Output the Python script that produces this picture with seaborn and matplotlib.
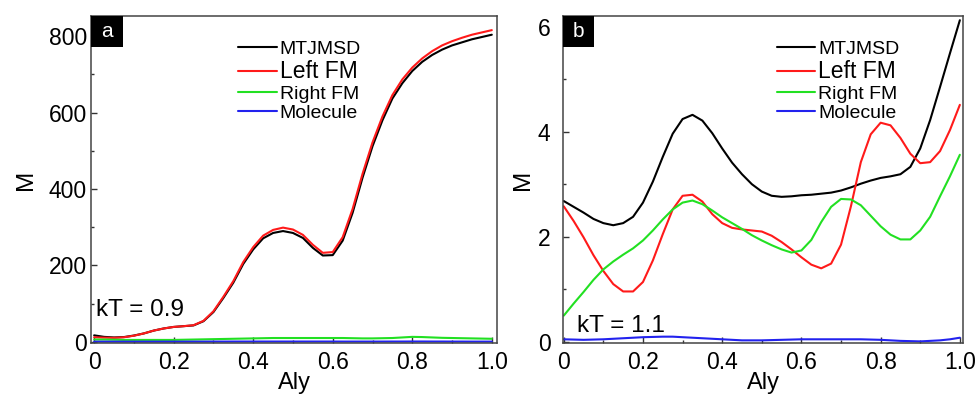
import numpy as np
import pandas as pd
import matplotlib
matplotlib.use('Agg')
import matplotlib.pyplot as plt
import seaborn as sns
from matplotlib.patches import Rectangle
from matplotlib.ticker import MultipleLocator

sns.set_style('ticks')
plt.rcParams['font.family'] = ['Liberation Sans', 'DejaVu Sans']
plt.rcParams['text.color'] = 'black'
plt.rcParams['axes.labelcolor'] = 'black'
plt.rcParams['xtick.labelcolor'] = 'black'
plt.rcParams['ytick.labelcolor'] = 'black'

# Aly grid shared by both panels
aly = [0.0, 0.025, 0.05, 0.075, 0.1, 0.125, 0.15, 0.175, 0.2, 0.225,
       0.25, 0.275, 0.3, 0.325, 0.35, 0.375, 0.4, 0.425, 0.45, 0.475,
       0.5, 0.525, 0.55, 0.575, 0.6, 0.625, 0.65, 0.675, 0.7, 0.725,
       0.75, 0.775, 0.8, 0.825, 0.85, 0.875, 0.9, 0.925, 0.95, 0.975, 1.0]

# panel a, kT = 0.9
a_mtjmsd = [17, 13, 11.5, 12.5, 16.5, 22, 29.5, 35, 39, 41,
            43, 54, 78, 115, 155, 204, 242, 271, 285, 290,
            285, 272, 246, 226, 227, 265, 338, 430, 512, 580,
            637, 677, 709, 733, 751, 765, 776, 784, 792, 798, 804]
a_left = [12, 11, 10.5, 12, 16, 22, 29.5, 35, 39, 41,
          43.5, 55, 80, 118, 159, 209, 248, 278, 293, 299,
          294, 280, 254, 233, 235, 274, 348, 440, 522, 590,
          646, 687, 718, 742, 761, 776, 787, 796, 804, 810, 816]
a_right = [6, 6, 5.5, 5, 5, 5, 5, 5, 5, 5.5,
           6, 6.5, 7, 7.5, 8, 8.5, 9, 9.5, 10, 10,
           10, 10, 10, 10, 10, 10, 9.5, 9, 9, 9.5,
           10, 11.5, 13, 12.5, 11.5, 10.5, 10, 9.5, 9, 8.5, 8]
a_molecule = [0.5, 0.5, 0.5, 0.5, 0.5, 0.5, 0.5, 0.5, 0.5, 0.5,
              0.6, 0.6, 0.7, 0.7, 0.8, 0.8, 0.8, 0.8, 0.8, 0.8,
              0.8, 0.8, 0.8, 0.8, 0.8, 0.7, 0.7, 0.7, 0.7, 0.7,
              0.8, 0.8, 0.9, 0.9, 0.8, 0.8, 0.7, 0.7, 0.6, 0.6, 0.6]

# panel b, kT = 1.1
b_mtjmsd = [2.68, 2.57, 2.46, 2.34, 2.26, 2.22, 2.26, 2.38, 2.65, 3.05,
            3.52, 3.96, 4.24, 4.32, 4.21, 3.97, 3.68, 3.41, 3.19, 3.00,
            2.86, 2.78, 2.76, 2.77, 2.79, 2.80, 2.82, 2.84, 2.88, 2.94,
            3.01, 3.07, 3.12, 3.15, 3.19, 3.33, 3.68, 4.22, 4.85, 5.49, 6.12]
b_left = [2.58, 2.30, 1.99, 1.65, 1.35, 1.10, 0.96, 0.96, 1.14, 1.55,
          2.05, 2.52, 2.78, 2.80, 2.67, 2.43, 2.26, 2.17, 2.14, 2.12,
          2.10, 2.02, 1.90, 1.76, 1.61, 1.47, 1.40, 1.49, 1.85, 2.58,
          3.42, 3.95, 4.17, 4.12, 3.88, 3.58, 3.40, 3.42, 3.63, 4.03, 4.51]
b_right = [0.50, 0.73, 0.95, 1.18, 1.38, 1.53, 1.66, 1.78, 1.93, 2.12,
           2.33, 2.52, 2.65, 2.69, 2.62, 2.50, 2.37, 2.26, 2.15, 2.03,
           1.93, 1.84, 1.76, 1.70, 1.74, 1.94, 2.28, 2.57, 2.72, 2.71,
           2.60, 2.40, 2.20, 2.04, 1.95, 1.95, 2.12, 2.38, 2.77, 3.15, 3.56]
b_molecule = [0.05, 0.045, 0.04, 0.045, 0.05, 0.06, 0.07, 0.08, 0.09, 0.095,
              0.10, 0.10, 0.09, 0.08, 0.07, 0.06, 0.05, 0.04, 0.03, 0.03,
              0.03, 0.035, 0.04, 0.045, 0.05, 0.05, 0.05, 0.05, 0.05, 0.05,
              0.05, 0.045, 0.04, 0.03, 0.02, 0.015, 0.01, 0.02, 0.03, 0.05, 0.08]

series = ['MTJMSD', 'Left FM', 'Right FM', 'Molecule']
colors = ['#000000', '#ff1a1a', '#22e022', '#2222ee']


def long_table(values):
    frames = []
    for name, vals in zip(series, values):
        frames.append(pd.DataFrame({'Aly': aly, 'M': vals, 'series': name}))
    return pd.concat(frames, ignore_index=True)


df_a = long_table([a_mtjmsd, a_left, a_right, a_molecule])
df_b = long_table([b_mtjmsd, b_left, b_right, b_molecule])

fig = plt.figure(figsize=(9.76, 3.99), dpi=100)
ax_a = fig.add_axes([0.0932, 0.1404, 0.4160, 0.8195])
ax_b = fig.add_axes([0.5768, 0.1404, 0.4099, 0.8195])


def draw_panel(ax, df, ylim, ymaj, ymin, letter, kt_text, kt_pos, leg_x, ypad, mpad):
    sns.lineplot(data=df, x='Aly', y='M', hue='series', hue_order=series,
                 palette=colors, linewidth=1.5, ax=ax, legend=False, sort=False)
    ax.set_ylim(*ylim)
    ax.xaxis.set_minor_locator(MultipleLocator(0.1))
    ax.yaxis.set_major_locator(MultipleLocator(ymaj))
    ax.yaxis.set_minor_locator(MultipleLocator(ymin))
    ax.set_xticks([0, 0.2, 0.4, 0.6, 0.8, 1.0])
    ax.set_xticklabels(['0', '0.2', '0.4', '0.6', '0.8', '1.0'])
    ax.tick_params(which='both', direction='in', color='#333333',
                   top=False, right=False)
    ax.tick_params(which='major', length=4, width=1, labelsize=16.5)
    ax.tick_params(which='minor', length=2.5, width=1)
    ax.tick_params(axis='x', which='major', pad=6)
    ax.tick_params(axis='y', which='major', pad=ypad)
    for sp in ax.spines.values():
        sp.set_color('#444444')
        sp.set_linewidth(1.1)
        sp.set_visible(True)
    ax.set_xlabel('Aly', fontsize=17, labelpad=-2)
    ax.set_ylabel('M', fontsize=17.5, labelpad=mpad)

    # panel letter in black box
    ax.add_patch(Rectangle((0, 1 - 0.095), 0.078, 0.095, transform=ax.transAxes,
                           facecolor='black', edgecolor='none', zorder=5,
                           clip_on=False))
    ax.text(0.039, 1 - 0.0475, letter, transform=ax.transAxes, color='white',
            fontsize=15, ha='center', va='center', zorder=6)
    ax.text(kt_pos[0], kt_pos[1], kt_text, transform=ax.transAxes,
            fontsize=17.5, ha='left', va='baseline')

    handles = [plt.Line2D([], [], color=c, linewidth=1.5) for c in colors]
    leg = ax.legend(handles, series, loc='upper left',
                    bbox_to_anchor=(leg_x, 0.925), frameon=False, fontsize=14,
                    handlelength=2.0, handletextpad=0.15, labelspacing=0.1,
                    borderpad=0, borderaxespad=0)
    leg.get_texts()[1].set_fontsize(16.5)


draw_panel(ax_a, df_a, (-3, 853), 200, 100, 'a', 'kT = 0.9', (0.013, 0.083),
           0.362, 3, 8)
ax_a.set_xlim(-0.008, 1.013)
draw_panel(ax_b, df_b, (-0.02, 6.2), 2, 1, 'b', 'kT = 1.1', (0.034, 0.035),
           0.534, 9, 3)
ax_b.set_xlim(-0.002, 1.008)

fig.savefig('out.png', dpi=100)
